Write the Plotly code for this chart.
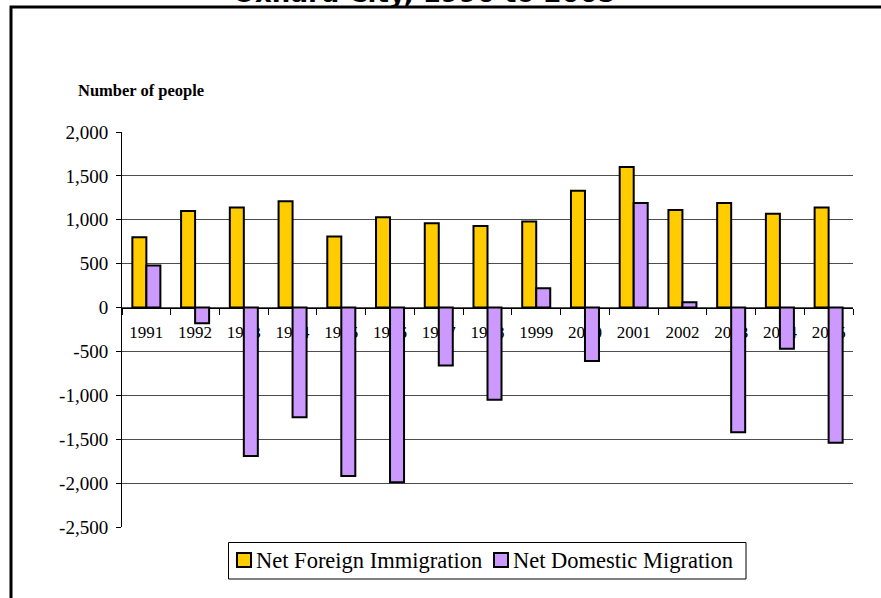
import plotly.graph_objects as go

# Net migration components by year
years = ["1991", "1992", "1993", "1994", "1995", "1996", "1997", "1998",
         "1999", "2000", "2001", "2002", "2003", "2004", "2005"]
net_foreign = [800, 1100, 1140, 1210, 810, 1030, 960, 930,
               980, 1330, 1600, 1110, 1190, 1070, 1140]
net_domestic = [480, -180, -1690, -1250, -1920, -1990, -660, -1050,
                220, -610, 1190, 60, -1420, -470, -1540]

series_names = ["Net Foreign Immigration", "Net Domestic Migration"]
series_colors = ["#FFCC00", "#CC99FF"]

y_ticks = [2000, 1500, 1000, 500, 0, -500, -1000, -1500, -2000, -2500]
y_tick_text = ["2,000", "1,500", "1,000", "500", "0", "-500", "-1,000",
               "-1,500", "-2,000", "-2,500"]

serif = "Liberation Serif"

fig = go.Figure()
for name, color, values in zip(series_names, series_colors,
                               [net_foreign, net_domestic]):
    fig.add_trace(go.Bar(
        x=years, y=values, name=name,
        marker=dict(color=color, line=dict(color="black", width=2)),
    ))

# Plot area spans pixels x 122..853, y 132..527
L, R, T, B = 122, 28, 132, 71
W, H = 881 - L - R, 598 - T - B


def px_x(p):
    return (p - L) / W


def px_y(p):
    return (598 - B - p) / H


shapes = [
    # outer chart frame (only its left and top edges fall on the page)
    dict(type="rect", xref="paper", yref="paper",
         x0=px_x(11), x1=px_x(900), y0=px_y(620), y1=px_y(7),
         line=dict(color="black", width=3), fillcolor="rgba(0,0,0,0)",
         layer="above"),
    # legend box
    dict(type="rect", xref="paper", yref="paper",
         x0=px_x(228.5), x1=px_x(746), y0=px_y(579), y1=px_y(542.5),
         line=dict(color="black", width=1), fillcolor="white",
         layer="above"),
]
annotations = [
    dict(text="<b>Oxnard City, 1990 to 2005</b>", xref="paper", yref="paper",
         x=px_x(424), y=px_y(-7), xanchor="center", yanchor="middle",
         showarrow=False,
         font=dict(family="DejaVu Sans", size=26, color="black")),
    dict(text="<b>Number of people</b>", xref="paper", yref="paper",
         x=px_x(141), y=px_y(91), xanchor="center", yanchor="middle",
         showarrow=False,
         font=dict(family=serif, size=16.5, color="black")),
]

# legend entries: swatch followed by its label
swatch_x = [237, 494]
for sx, name, color in zip(swatch_x, series_names, series_colors):
    shapes.append(dict(
        type="rect", xref="paper", yref="paper",
        x0=px_x(sx), x1=px_x(sx + 14), y0=px_y(567), y1=px_y(553),
        line=dict(color="black", width=2), fillcolor=color, layer="above"))
    annotations.append(dict(
        text=name, xref="paper", yref="paper",
        x=px_x(sx + 17), y=px_y(560.5), xanchor="left", yanchor="middle",
        showarrow=False, font=dict(family=serif, size=22.5, color="black")))

fig.update_layout(
    width=881, height=598,
    margin=dict(l=L, r=R, t=T, b=B),
    paper_bgcolor="white", plot_bgcolor="white",
    barmode="group", bargap=0.425, bargroupgap=0,
    font=dict(family=serif, color="black"),
    showlegend=False,
    xaxis=dict(
        type="category", anchor="free", position=2500 / 4500,
        showline=True, linecolor="black", linewidth=1,
        ticks="outside", tickson="boundaries", ticklen=6, tickcolor="black",
        tickfont=dict(family=serif, size=17, color="black"),
        ticklabelstandoff=9,
        showgrid=False, layer="below traces",
    ),
    yaxis=dict(
        range=[-2500, 2000], tickvals=y_ticks, ticktext=y_tick_text,
        showline=True, linecolor="black", linewidth=1,
        ticks="outside", ticklen=5, tickcolor="black",
        tickfont=dict(family=serif, size=19, color="black"),
        ticklabelstandoff=4,
        showgrid=True, gridcolor="#4d4d4d", gridwidth=1,
        zeroline=False,
    ),
    shapes=shapes,
    annotations=annotations,
)

fig.write_html("out.html")
